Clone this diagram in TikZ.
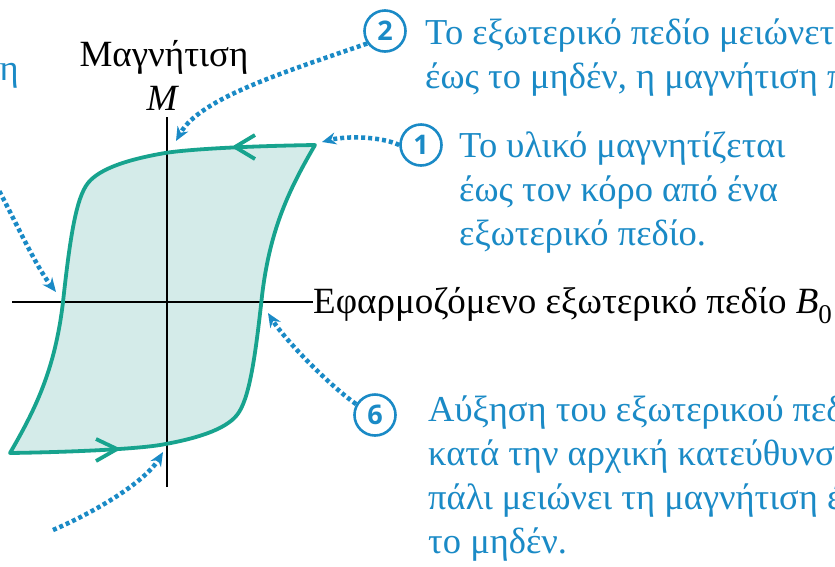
\documentclass[tikz,border=0pt]{standalone}
\usepackage{fontspec}
\setmainfont{Liberation Serif}
\newfontfamily\numfont{Open Sans}
\usetikzlibrary{arrows.meta}
\definecolor{loopc}{HTML}{17A38E}
\definecolor{fillc}{HTML}{D4EBE9}
\definecolor{bluec}{HTML}{1A8AC6}
\tikzset{
  loopline/.style={draw=loopc, line width=3.8pt, line join=round},
  loopfill/.style={fill=fillc},
  axisline/.style={draw=black, line width=1.8pt},
  pointer/.style={draw=bluec, line width=4.5pt, dash pattern=on 4pt off 3pt,
    -{Stealth[length=14pt,width=12pt,inset=4.5pt]}},
  numcircle/.style={circle, draw=bluec, line width=2.6pt, minimum size=41pt, inner sep=0pt,
    text=bluec, font=\numfont\bfseries\fontsize{27}{27}\selectfont},
  bluetext/.style={text=bluec, align=left, inner sep=0pt, anchor=base west,
    font=\fontsize{36.5}{44}\selectfont},
  blacktext/.style={text=black, inner sep=0pt, font=\fontsize{37}{44}\selectfont}
}
\begin{document}
\begin{tikzpicture}[x=1pt,y=-1pt]
\useasboundingbox (0,0) rectangle (835,566);
\clip (0,0) rectangle (835,566);
\fill[white] (0,0) rectangle (835,566);

% hysteresis loop
\path[loopfill]
  (315,145) .. controls (250,146) and (190,149) .. (165,153)
  .. controls (130,159) and (100,168) .. (88,183)
  .. controls (76,198) and (70,238) .. (63,302)
  .. controls (55,370) and (35,410) .. (10,453)
  .. controls (75,452) and (135,449) .. (160,445)
  .. controls (195,439) and (225,430) .. (237,415)
  .. controls (249,400) and (255,360) .. (262,296)
  .. controls (270,228) and (290,188) .. (315,145) -- cycle;

% axes
\node[blacktext, anchor=base] (mag) at (164,66) {Μαγνήτιση};
\node[blacktext, anchor=base] (mlab) at (163,110) {\textit{M}};
\node[blacktext, anchor=base west] (xlab) at (313,313)
  {Εφαρμοζόμενο εξωτερικό πεδίο \textit{B}\raisebox{-0.28em}{\fontsize{27}{27}\selectfont 0}};
\coordinate (vB) at (167,487);
\coordinate (vT) at (167,117);
\coordinate (hL) at (12,302);
\coordinate (hR) at (313,302);
\draw[axisline] (vB) -- (vT);
\draw[axisline] (hL) -- (hR);

\draw[loopline]
  (315,145) .. controls (250,146) and (190,149) .. (165,153)
  .. controls (130,159) and (100,168) .. (88,183)
  .. controls (76,198) and (70,238) .. (63,302)
  .. controls (55,370) and (35,410) .. (10,453)
  .. controls (75,452) and (135,449) .. (160,445)
  .. controls (195,439) and (225,430) .. (237,415)
  .. controls (249,400) and (255,360) .. (262,296)
  .. controls (270,228) and (290,188) .. (315,145) -- cycle;
\draw[loopline] (255,135) -- (235,147) -- (255,159);
\draw[loopline] (96,439) -- (117,449) -- (96,461);

% numbered callouts
\node[numcircle] (c2) at (385,31) {2};
\node[numcircle] (c1) at (421,145) {1};
\node[numcircle] (c6) at (375,415) {6};

\node[bluetext] (t2) at (425,88) {Το εξωτερικό πεδίο μειώνεται\\έως το μηδέν, η μαγνήτιση παραμένει};
\node[bluetext] (t1) at (459,245) {Το υλικό μαγνητίζεται\\έως τον κόρο από ένα\\εξωτερικό πεδίο.};
\node[bluetext] (t6) at (428,553) {Αύξηση του εξωτερικού πεδίου\\κατά την αρχική κατεύθυνση\\πάλι μειώνει τη μαγνήτιση έως\\το μηδέν.};
\node[bluetext, anchor=base east] (tl) at (19,80) {η};

% pointers
\coordinate (p2) at (176,141);
\coordinate (p1) at (322,142);
\coordinate (p6) at (268,313);
\coordinate (l0) at (-4,185);
\coordinate (p3) at (56,292);
\coordinate (b0) at (53,530);
\coordinate (p5) at (163,452);
\draw[pointer] (c2.215) .. controls (285,72) and (200,98) .. (p2);
\draw[pointer] (c1.west) .. controls (380,136) and (345,136) .. (p1);
\draw[pointer] (c6.150) .. controls (325,382) and (283,337) .. (p6);
\draw[pointer] (l0) .. controls (15,220) and (35,265) .. (p3);
\draw[pointer] (b0) .. controls (95,512) and (145,482) .. (p5);
\end{tikzpicture}
\end{document}
